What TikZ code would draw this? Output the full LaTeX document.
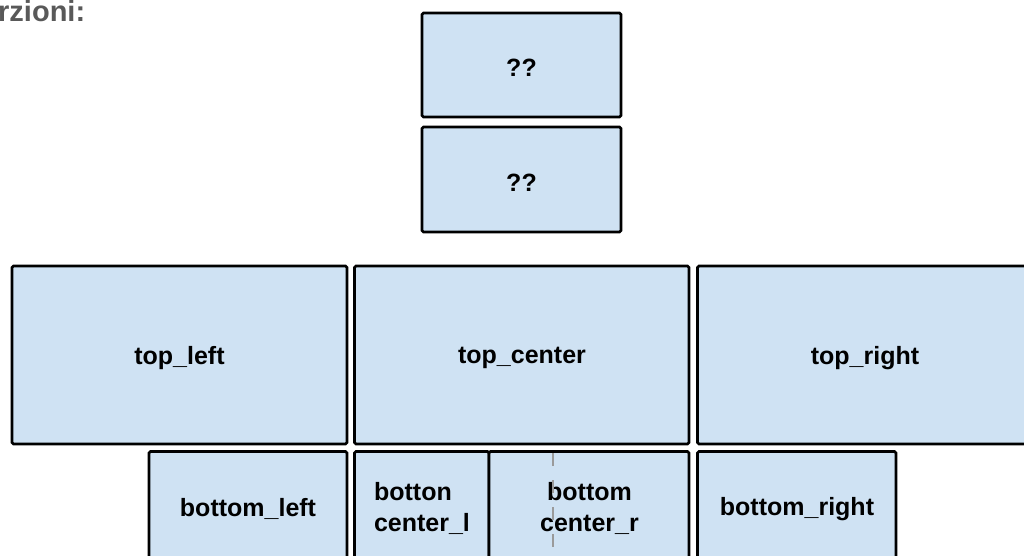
\documentclass[tikz,border=0pt]{standalone}
\usepackage{fontspec}
\setmainfont{Liberation Sans}
\definecolor{boxfill}{HTML}{CFE2F3}
\definecolor{titlegray}{HTML}{595959}
\definecolor{dashgray}{HTML}{9A9A9A}
\begin{document}
\begin{tikzpicture}[x=1pt,y=-1pt,
  part/.style={draw=black, line width=2.8pt, fill=boxfill, rounded corners=1.5pt},
  lbl/.style={inner sep=0pt, font=\bfseries\fontsize{25}{31}\selectfont},
  dashsep/.style={draw=dashgray, line width=2.2pt, dash pattern=on 13pt off 14pt}
]
\useasboundingbox (0,0) rectangle (1024,556);
\clip (0,0) rectangle (1024,556);
% title (cropped)
\node[anchor=base west, inner sep=0pt, text=titlegray,
  font=\bfseries\fontsize{29}{32}\selectfont] (title) at (-2,22) {rzioni:};
% unknown partitions
\draw[part] (422,13) rectangle (621,117);
\node[lbl] (q1) at (521.5,68) {??};
\draw[part] (422,127) rectangle (621,232);
\node[lbl] (q2) at (521.5,183) {??};
% top row
\draw[part] (12,266) rectangle (347,444);
\node[lbl] (tl) at (179.5,358) {top\_left};
\draw[part] (354.5,266) rectangle (689,444);
\node[lbl] (tc) at (522,358) {top\_center};
\draw[part] (697.5,266) rectangle (1034,444);
\node[lbl] (tr) at (865,358) {top\_right};
% bottom row
\draw[part] (149,451.5) rectangle (347,562);
\node[lbl] (bl) at (248,509) {bottom\_left};
\draw[part] (354.5,451.5) rectangle (489,562);
\node[lbl, align=left] (bcl) at (422,508) {botton\\center\_l};
\draw[part] (489,451.5) rectangle (689,562);
\node[lbl, align=center] (bcr) at (589.5,508) {bottom\\center\_r};
\draw[part] (697.5,451.5) rectangle (896,562);
\node[lbl] (br) at (797,509) {bottom\_right};
% dashed separator
\coordinate (dtop) at (553,453);
\coordinate (dbot) at (553,556);
\draw[dashsep] (dtop) -- (dbot);
\end{tikzpicture}
\end{document}
